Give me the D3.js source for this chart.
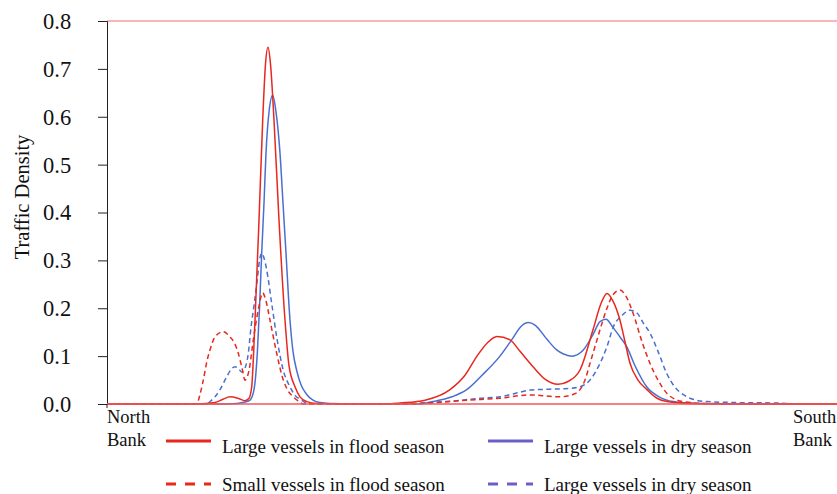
<!DOCTYPE html>
<html><head><meta charset="utf-8">
<script src="https://cdn.jsdelivr.net/npm/d3@7"></script>
<style>body{margin:0;background:#fff}svg{display:block}</style>
</head><body><svg id="c" width="837" height="494"></svg>
<script>
// x = distance across the river (index units), y = traffic density
const largeFlood = [[0,0],[90,0],[108,0.003],[116,0.01],[123,0.015],[131,0.012],[138,0.007],[142,0.012],[144.7,0.036],[148,0.175],[152,0.384],[155.7,0.593],[158.5,0.71],[161,0.745],[163.5,0.71],[167,0.593],[172,0.384],[178,0.175],[182,0.08],[188,0.036],[193,0.015],[199.7,0.005],[210,0.001],[230,0],[280,0],[293,0.002],[318,0.008],[343,0.03],[358,0.06],[370,0.1],[380,0.127],[390,0.141],[403,0.134],[413,0.11],[426,0.078],[438,0.052],[451,0.041],[461,0.047],[473,0.071],[486,0.155],[494,0.21],[500,0.231],[506,0.215],[513,0.175],[518,0.13],[523,0.085],[531,0.05],[540,0.03],[550,0.012],[560,0.005],[583,0.001],[620,0],[730,0]];
const largeDry = [[0,0],[120,0],[130,0.001],[138,0.004],[143,0.008],[147,0.03],[150.3,0.106],[152.5,0.2],[154.7,0.315],[157,0.42],[159,0.524],[162,0.61],[165.7,0.645],[169,0.61],[173,0.524],[176,0.42],[179,0.315],[183,0.175],[186,0.11],[189.7,0.07],[194,0.04],[199.7,0.02],[206,0.008],[213,0.003],[225,0.001],[240,0],[310,0],[326,0.005],[345,0.015],[359.7,0.03],[375,0.06],[393,0.1],[405,0.135],[414,0.162],[421.3,0.17],[428,0.165],[440,0.135],[449.7,0.113],[456,0.105],[464.7,0.1],[476.3,0.113],[486,0.145],[493,0.172],[499,0.177],[506,0.16],[513,0.14],[519.7,0.12],[528,0.08],[539.7,0.036],[552,0.015],[566.3,0.005],[590,0.001],[620,0],[730,0]];
const smallFlood = [[0,0],[89.7,0],[93,0.02],[96.3,0.05],[100,0.09],[103,0.113],[108,0.14],[116.3,0.151],[123,0.14],[128,0.125],[131.3,0.106],[135,0.075],[138,0.05],[142,0.07],[146.3,0.134],[151.3,0.197],[155.7,0.232],[159,0.215],[163,0.175],[169.7,0.106],[176.3,0.05],[181,0.028],[186.3,0.015],[192,0.005],[196.3,0],[300,0],[330,0.003],[360,0.008],[393,0.012],[423,0.019],[443,0.016],[453,0.015],[466,0.02],[473,0.03],[478,0.05],[483,0.085],[488,0.12],[493,0.155],[500,0.2],[506,0.228],[513,0.238],[519,0.225],[526,0.19],[535,0.13],[543,0.085],[551,0.05],[560,0.022],[568,0.01],[576,0.005],[600,0.001],[650,0],[730,0]];
const smallDry = [[0,0],[100,0],[103,0.005],[108,0.015],[113,0.03],[119.7,0.057],[124,0.072],[128,0.078],[131,0.075],[134.7,0.067],[138,0.075],[141.3,0.106],[144,0.16],[147.3,0.21],[150.3,0.26],[152.5,0.3],[154.7,0.315],[157,0.305],[159.7,0.28],[164.7,0.21],[169.7,0.14],[176.3,0.07],[183,0.036],[188,0.018],[193,0.01],[203,0],[290,0],[320,0.003],[350,0.007],[373,0.012],[393,0.015],[408,0.022],[423,0.029],[443,0.031],[458,0.032],[473,0.036],[483,0.05],[493,0.085],[500,0.12],[506.3,0.161],[515,0.185],[523,0.196],[530,0.19],[536,0.17],[543,0.148],[551,0.11],[559.7,0.064],[568,0.035],[576,0.02],[583,0.012],[600,0.005],[630,0.003],[670,0.002],[690,0],[730,0]];
const yTicks = [0,0.1,0.2,0.3,0.4,0.5,0.6,0.7,0.8];
const legendLabels = ["Large vessels in flood season","Large vessels in dry season","Small vessels in flood season","Large vessels in dry season"];
const yTitle = "Traffic Density";
const bankLeft = ["North","Bank"], bankRight = ["South","Bank"];

const FONT = "'Liberation Serif', 'Times New Roman', 'DejaVu Serif', serif";
const RED = "#e8281e", BLUE = "#4a6fd0", LBLUE = "#6a5ec8";
const svg = d3.select("#c");
const x = d3.scaleLinear().domain([0,730]).range([107,837]);
const y = d3.scaleLinear().domain([0,0.8]).range([404,21]);

svg.append("line").attr("x1",x(0)).attr("x2",x(730)).attr("y1",y(0.8)).attr("y2",y(0.8)).attr("stroke","#f07070").attr("stroke-width",1.2);

const yAxis = svg.append("g").attr("transform",`translate(${x(0)},0)`)
  .call(d3.axisLeft(y).tickValues(yTicks).tickFormat(d3.format(".1f")).tickSize(9).tickPadding(33));
yAxis.attr("font-family",null).attr("font-size",null);
yAxis.select(".domain").attr("stroke","#222");
yAxis.selectAll(".tick line").attr("stroke","#222");
yAxis.selectAll("text").attr("font-family",FONT).attr("font-size",22.5).attr("fill","#111").attr("dy","0.33em").attr("text-anchor","start").attr("x",-64);

svg.append("text").attr("transform",`translate(29,197) rotate(-90)`).attr("text-anchor","middle")
  .attr("font-family",FONT).attr("font-size",20.5).attr("fill","#111").text(yTitle);

const line = d3.line().x(d=>x(d[0])).y(d=>y(d[1])).curve(d3.curveMonotoneX);
const series = [
  {d:largeDry,c:BLUE,dash:null},
  {d:smallDry,c:BLUE,dash:"5,3.5"},
  {d:smallFlood,c:RED,dash:"5,3.5"},
  {d:largeFlood,c:RED,dash:null}
];
series.forEach(s=>{
  svg.append("path").datum(s.d).attr("d",line).attr("fill","none").attr("stroke",s.c).attr("stroke-width",1.5).attr("stroke-dasharray",s.dash);
});

svg.append("line").attr("x1",x(0)).attr("x2",x(730)).attr("y1",y(0)).attr("y2",y(0)).attr("stroke","#f05858").attr("stroke-width",1.5);
svg.append("line").attr("x1",x(0)).attr("x2",x(0)).attr("y1",y(0)).attr("y2",y(0)+4).attr("stroke","#222");

bankLeft.forEach((t,i)=>svg.append("text").attr("x",107).attr("y",423+i*23).attr("font-family",FONT).attr("font-size",18.5).attr("fill","#111").text(t));
bankRight.forEach((t,i)=>svg.append("text").attr("x",793).attr("y",423+i*23).attr("font-family",FONT).attr("font-size",18.5).attr("fill","#111").text(t));

const leg = [
  {x:166,y:441,ty:453,c:RED,dash:null,t:legendLabels[0]},
  {x:488,y:441,ty:453,c:LBLUE,dash:null,t:legendLabels[1]},
  {x:166,y:484,ty:491,c:RED,dash:"10,9",t:legendLabels[2]},
  {x:488,y:484,ty:491,c:LBLUE,dash:"10,9",t:legendLabels[3]}
];
leg.forEach(l=>{
  svg.append("line").attr("x1",l.x).attr("x2",l.x+45).attr("y1",l.y).attr("y2",l.y).attr("stroke",l.c).attr("stroke-width",3).attr("stroke-dasharray",l.dash);
  svg.append("text").attr("x",l.x+56).attr("y",l.ty).attr("font-family",FONT).attr("font-size",19).attr("fill","#111").text(l.t);
});
</script></body></html>
